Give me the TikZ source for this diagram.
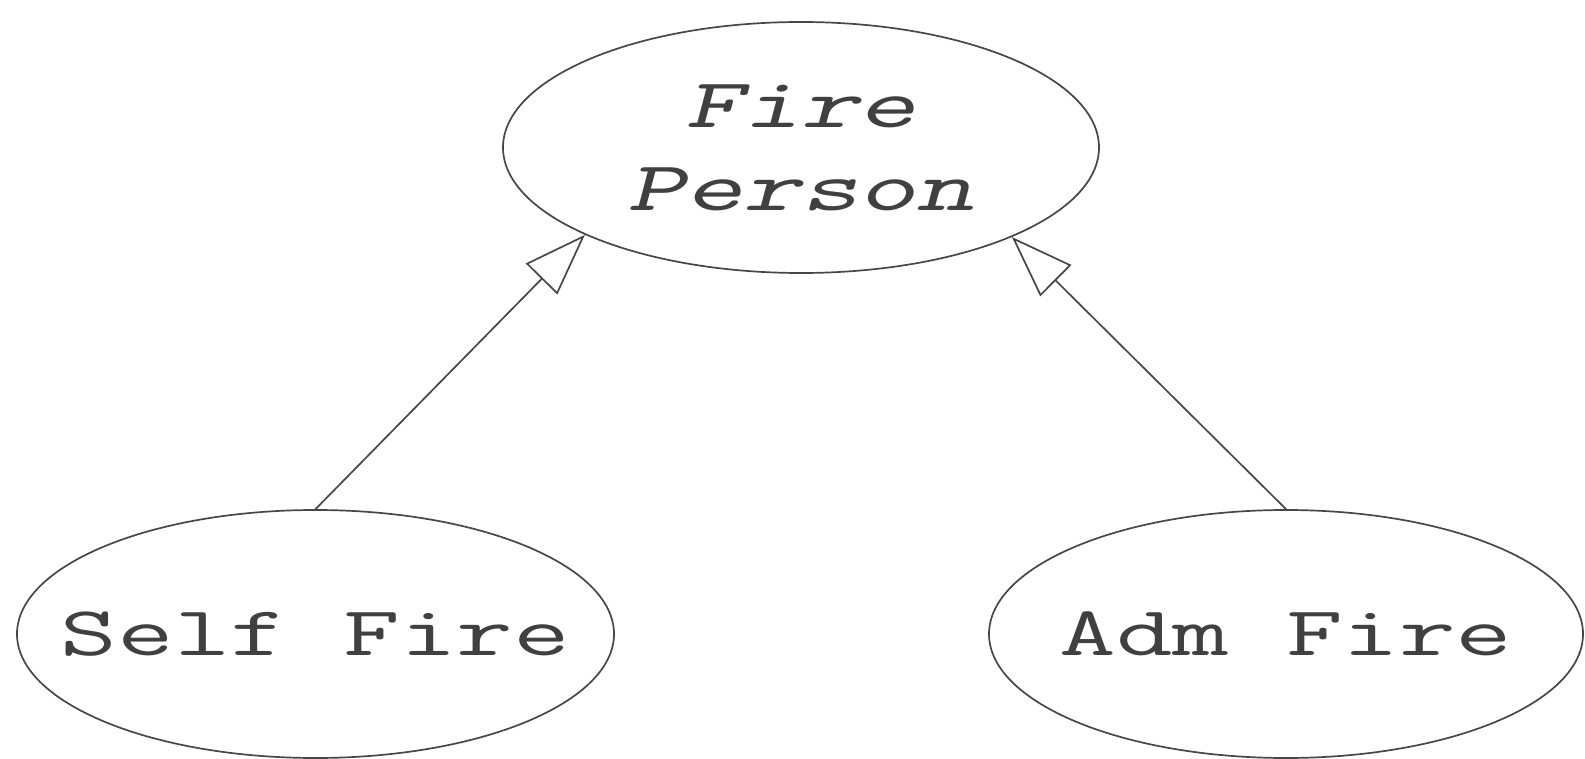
\documentclass[tikz,border=0pt]{standalone}
\usepackage{graphicx}
\usepackage{fontspec}
\usetikzlibrary{arrows.meta,shapes.geometric}
\newcommand{\widetxt}[1]{\scalebox{1.57}[1]{#1}}
\begin{document}
\begin{tikzpicture}[x=1pt,y=-1pt,
  cls/.style={draw=black!72, line width=1.7pt, ellipse, inner sep=0pt},
  lbl/.style={font=\ttfamily\fontsize{70}{83}\selectfont, text=black!75, align=center, inner sep=0pt},
  gen/.style={draw=black!72, line width=1.7pt, -{Triangle[open, length=62pt, width=44pt]}}]
\useasboundingbox (0,0) rectangle (1585,759);
\node[cls, minimum width=596pt, minimum height=251pt] (fp) at (801,147.5) {};
\node[cls, minimum width=597pt, minimum height=248pt] (sf) at (315.5,634) {};
\node[cls, minimum width=594pt, minimum height=248pt] (af) at (1286,634) {};
\node[lbl] (fpt) at (fp.center) {\slshape\widetxt{Fire}\\\slshape\widetxt{Person}};
\node[lbl] (sft) at (sf.center) {\widetxt{Self Fire}};
\node[lbl] (aft) at (af.center) {\widetxt{Adm Fire}};
\draw[gen] (sf.north) -- (fp.202);
\draw[gen] (af.north) -- (fp.337);
\end{tikzpicture}
\end{document}
